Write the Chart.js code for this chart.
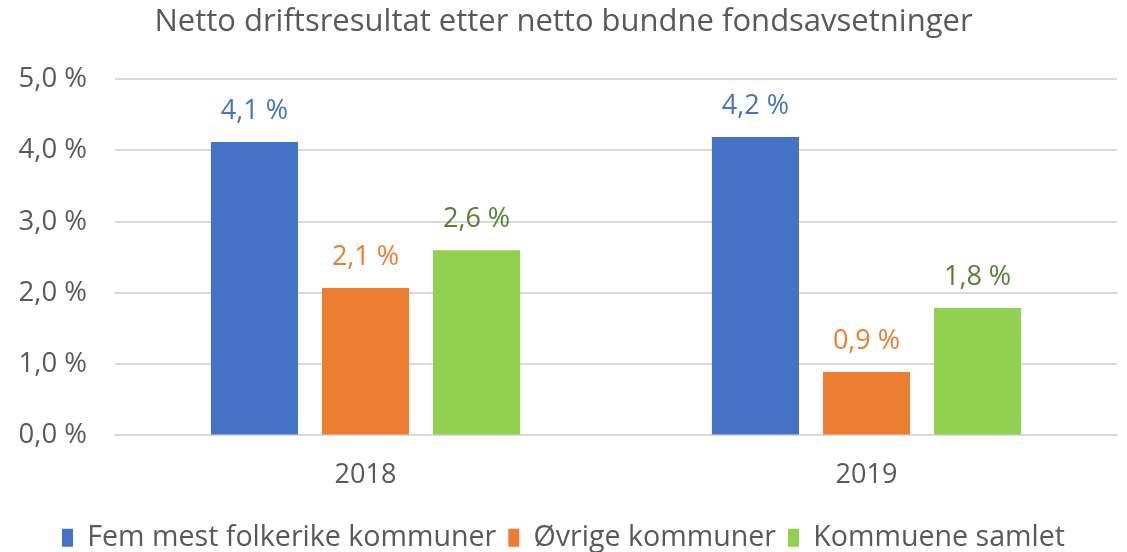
<!DOCTYPE html>
<html>
<head>
<meta charset="utf-8">
<script src="https://cdn.jsdelivr.net/npm/chart.js@4.4.1/dist/chart.umd.min.js"></script>
<style>
	html, body { margin: 0; padding: 0; background: #fff; }
	#wrap { width: 1127px; height: 552px; }
</style>
</head>
<body>
<div id="wrap"><canvas id="canvasResult"></canvas></div>
<script>
"use strict"

// data
var years = ['2018', '2019']
var femMest = [4.12, 4.19]
var ovrige = [2.07, 0.89]
var samlet = [2.60, 1.79]
var seriesNames = ['Fem mest folkerike kommuner', 'Øvrige kommuner', 'Kommuene samlet']
var yTicks = [0, 1, 2, 3, 4, 5]

var barColors = ['#4472C4', '#ED7D31', '#92D050']
var labelColors = ['#4472C4', '#ED7D31', '#548235']
var fontFamily = "'Open Sans', 'Noto Sans', sans-serif"

function FormatPercent(v) {
	return v.toFixed(1).replace('.', ',') + ' %'
}

// draws value labels above each bar
var valueLabels = {
	id: 'valueLabels',
	afterDatasetsDraw: function (chart) {
		const ctx = chart.ctx
		ctx.save()
		ctx.font = '27px ' + fontFamily
		ctx.textAlign = 'center'
		ctx.textBaseline = 'middle'
		chart.data.datasets.forEach(function (ds, i) {
			const meta = chart.getDatasetMeta(i)
			meta.data.forEach(function (bar, j) {
				ctx.fillStyle = labelColors[i]
				ctx.fillText(FormatPercent(ds.data[j]), bar.x, bar.y - 31)
			})
		})
		ctx.restore()
	}
}

const context = document.getElementById('canvasResult').getContext('2d')
const myChart = new Chart(context, {
	type: 'bar',
	data: {
		labels: years,
		datasets: [
			{ label: seriesNames[0], data: femMest, backgroundColor: barColors[0] },
			{ label: seriesNames[1], data: ovrige, backgroundColor: barColors[1] },
			{ label: seriesNames[2], data: samlet, backgroundColor: barColors[2] }
		]
	},
	options: {
		responsive: true,
		maintainAspectRatio: false,
		animation: false,
		categoryPercentage: 0.665,
		barPercentage: 0.784,
		layout: { padding: { left: 10, right: 10, top: 0, bottom: -10 } },
		plugins: {
			title: {
				display: true,
				text: 'Netto driftsresultat etter netto bundne fondsavsetninger',
				color: '#595959',
				font: { family: fontFamily, size: 31, weight: 'normal' },
				padding: { top: 4, bottom: 38 }
			},
			legend: {
				position: 'bottom',
				labels: {
					color: '#595959',
					font: { family: fontFamily, size: 28.6 },
					boxWidth: 11,
					boxHeight: 18,
					padding: 12
				}
			},
			tooltip: { enabled: false }
		},
		scales: {
			x: {
				afterFit: function (axis) {
					axis.height = 76
				},
				grid: { display: false },
				border: { display: false },
				ticks: {
					color: '#595959',
					font: { family: fontFamily, size: 27 },
					padding: 16
				}
			},
			y: {
				min: 0,
				max: 5,
				afterBuildTicks: function (axis) {
					axis.ticks = yTicks.map(function (v) { return { value: v } })
				},
				afterFit: function (axis) {
					axis.width = 105
				},
				grid: { color: '#d9d9d9', lineWidth: 2, drawTicks: false },
				border: { display: false },
				ticks: {
					color: '#595959',
					font: { family: fontFamily, size: 27.5 },
					padding: 28,
					callback: function (v) { return FormatPercent(v) }
				}
			}
		}
	},
	plugins: [valueLabels]
})
</script>
</body>
</html>
